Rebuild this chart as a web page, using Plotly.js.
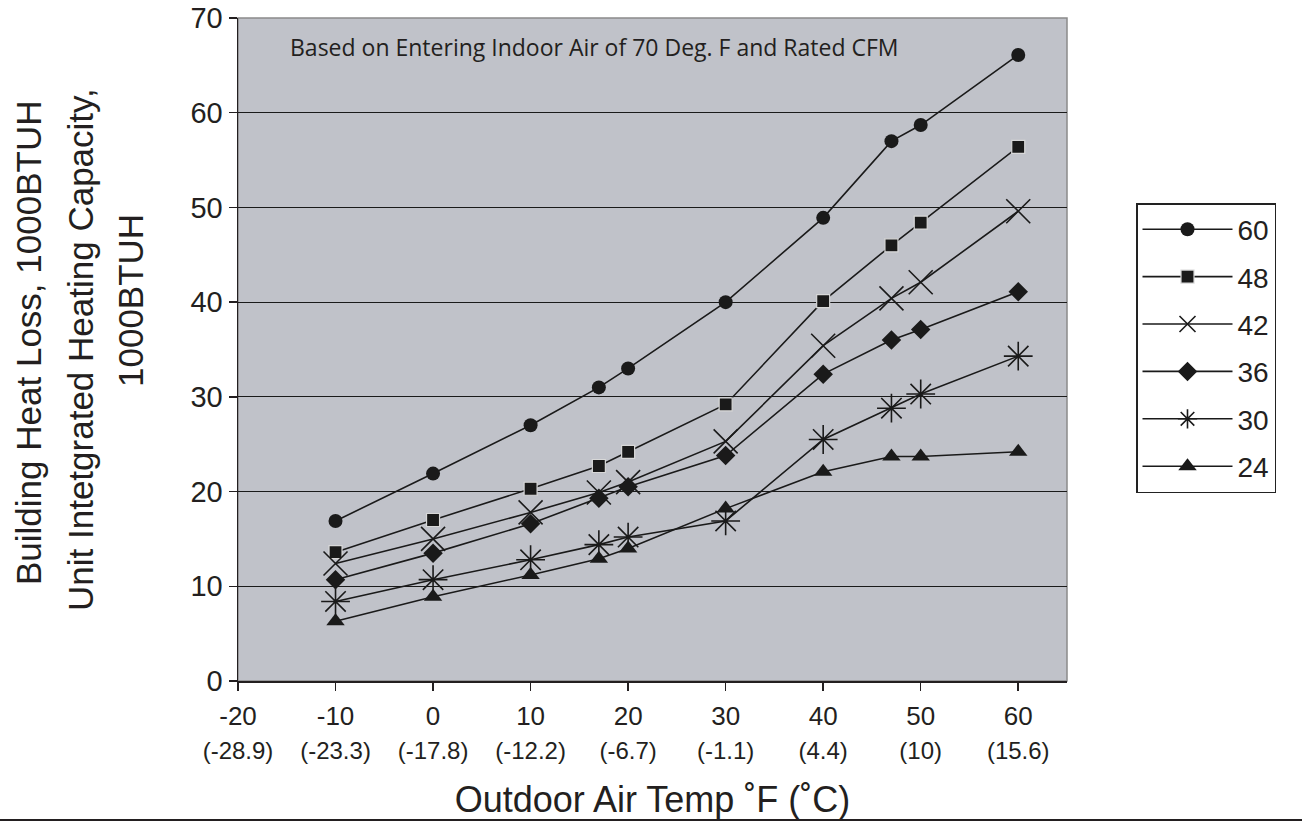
<!DOCTYPE html>
<html>
<head>
<meta charset="utf-8">
<script src="https://cdn.plot.ly/plotly-3.0.1.min.js"></script>
<style>html,body{margin:0;padding:0;background:#fff;}#chart{width:1302px;height:822px;}</style>
</head>
<body>
<div id="chart"></div>
<script>
// Outdoor air temperature, deg F
const tempF = [-10, 0, 10, 17, 20, 30, 40, 47, 50, 60];
// Tick labels
const tickF = [-20, -10, 0, 10, 20, 30, 40, 50, 60];
const tickC = ["(-28.9)", "(-23.3)", "(-17.8)", "(-12.2)", "(-6.7)", "(-1.1)", "(4.4)", "(10)", "(15.6)"];
// Series names
const seriesNames = ["60", "48", "42", "36", "30", "24"];
// Heating capacity, 1000 BTUH
const cap60 = [16.9, 21.9, 27.0, 31.0, 33.0, 40.0, 48.9, 57.0, 58.7, 66.1];
const cap48 = [13.6, 17.0, 20.3, 22.7, 24.2, 29.2, 40.1, 46.0, 48.4, 56.4];
const cap42 = [12.4, 15.0, 17.8, 19.9, 21.0, 25.3, 35.4, 40.4, 42.1, 49.6];
const cap36 = [10.7, 13.5, 16.6, 19.3, 20.5, 23.8, 32.4, 36.0, 37.1, 41.1];
const cap30 = [8.4, 10.7, 12.8, 14.4, 15.2, 16.9, 25.5, 28.8, 30.3, 34.3];
const cap24 = [6.3, 8.9, 11.2, 12.9, 14.0, 18.2, 22.1, 23.7, 23.7, 24.2];

const seriesValues = [cap60, cap48, cap42, cap36, cap30, cap24];
const markerStyles = [
  {symbol: "circle", size: 14, color: "#1a1a1a", line: {width: 0}},
  {symbol: "square", size: 13, color: "#1a1a1a", line: {width: 1.2, color: "#d8d8d8"}},
  {symbol: "x-thin-open", size: 24, color: "#1a1a1a", line: {width: 1.6, color: "#1a1a1a"}},
  {symbol: "diamond", size: 15, color: "#1a1a1a", line: {width: 0}},
  {symbol: "asterisk-open", size: 24, color: "#1a1a1a", line: {width: 1.6, color: "#1a1a1a"}},
  {symbol: "triangle-up", size: 16, color: "#1a1a1a", line: {width: 0}}
];

const traces = seriesNames.map((n, i) => ({
  type: "scatter",
  mode: "lines+markers",
  name: n,
  legendgroup: "g" + i,
  x: tempF,
  y: seriesValues[i],
  line: {color: "#1a1a1a", width: 1.6},
  marker: markerStyles[i],
  hoverinfo: "skip"
}));

const tickText = tickF.map((v, i) => v + "<br><span style='font-size:24px'>" + tickC[i] + "</span>");

const L = 238, R = 1067, T = 18, B = 681, W = 1302, H = 822;
const px = v => (v - L) / (R - L);
const py = v => (B - v) / (B - T);

const layout = {
  width: W, height: H,
  margin: {l: L, r: W - R, t: T, b: H - B, pad: 0},
  paper_bgcolor: "#ffffff",
  plot_bgcolor: "rgb(192,194,201)",
  showlegend: true,
  legend: {
    x: px(1136), y: py(203), xanchor: "left", yanchor: "top",
    bgcolor: "#ffffff", bordercolor: "#222", borderwidth: 1.5,
    font: {family: "Liberation Sans, Arial, sans-serif", size: 28, color: "#231f20"},
    tracegroupgap: 8,
    itemwidth: 90
  },
  xaxis: {
    range: [-20, 65],
    tickvals: tickF,
    ticktext: tickText,
    ticks: "outside", ticklen: 8, tickwidth: 1.5, tickcolor: "#231f20",
    showline: true, linecolor: "#231f20", linewidth: 2,
    showgrid: false, zeroline: false,
    tickfont: {family: "Liberation Sans, Arial, sans-serif", size: 26, color: "#231f20"},
    ticklabelstandoff: 3,
    title: {text: "Outdoor Air Temp \u02DAF (\u02DAC)", font: {family: "Liberation Sans, Arial, sans-serif", size: 36, color: "#231f20"}, standoff: 24}
  },
  yaxis: {
    range: [0, 70], dtick: 10, tick0: 0,
    ticks: "outside", ticklen: 8, tickwidth: 1.5, tickcolor: "#231f20",
    showline: true, linecolor: "#231f20", linewidth: 1.5,
    showgrid: true, gridcolor: "#1a1a1a", gridwidth: 1,
    zeroline: false,
    tickfont: {family: "Liberation Sans, Arial, sans-serif", size: 29, color: "#231f20"},
    ticklabelstandoff: 0
  },
  shapes: [
    {type: "rect", xref: "paper", yref: "paper", x0: 0, x1: 1, y0: 0, y1: 1, line: {color: "#8a8a8a", width: 1.5}, layer: "below"},
    {type: "line", xref: "paper", yref: "paper", x0: px(0), x1: px(1302), y0: py(820), y1: py(820), line: {color: "#231f20", width: 2}}
  ],
  annotations: [
    {text: "Based on Entering Indoor Air of 70 Deg. F and Rated CFM", xref: "paper", yref: "paper",
     x: px(288), y: py(47), xanchor: "left", yanchor: "middle", showarrow: false,
     font: {family: "Open Sans, Noto Sans, sans-serif", size: 23, color: "#231f20"}},
    {text: "Building Heat Loss, 1000BTUH", xref: "paper", yref: "paper", textangle: -90,
     x: px(28), y: py(343), xanchor: "center", yanchor: "middle", showarrow: false,
     font: {family: "Liberation Sans, Arial, sans-serif", size: 35, color: "#231f20"}},
    {text: "Unit Intetgrated Heating Capacity,", xref: "paper", yref: "paper", textangle: -90,
     x: px(80), y: py(350), xanchor: "center", yanchor: "middle", showarrow: false,
     font: {family: "Liberation Sans, Arial, sans-serif", size: 35, color: "#231f20"}},
    {text: "1000BTUH", xref: "paper", yref: "paper", textangle: -90,
     x: px(130), y: py(301), xanchor: "center", yanchor: "middle", showarrow: false,
     font: {family: "Liberation Sans, Arial, sans-serif", size: 35, color: "#231f20"}}
  ]
};

Plotly.newPlot("chart", traces, layout, {displayModeBar: false, staticPlot: true});
</script>
</body>
</html>
